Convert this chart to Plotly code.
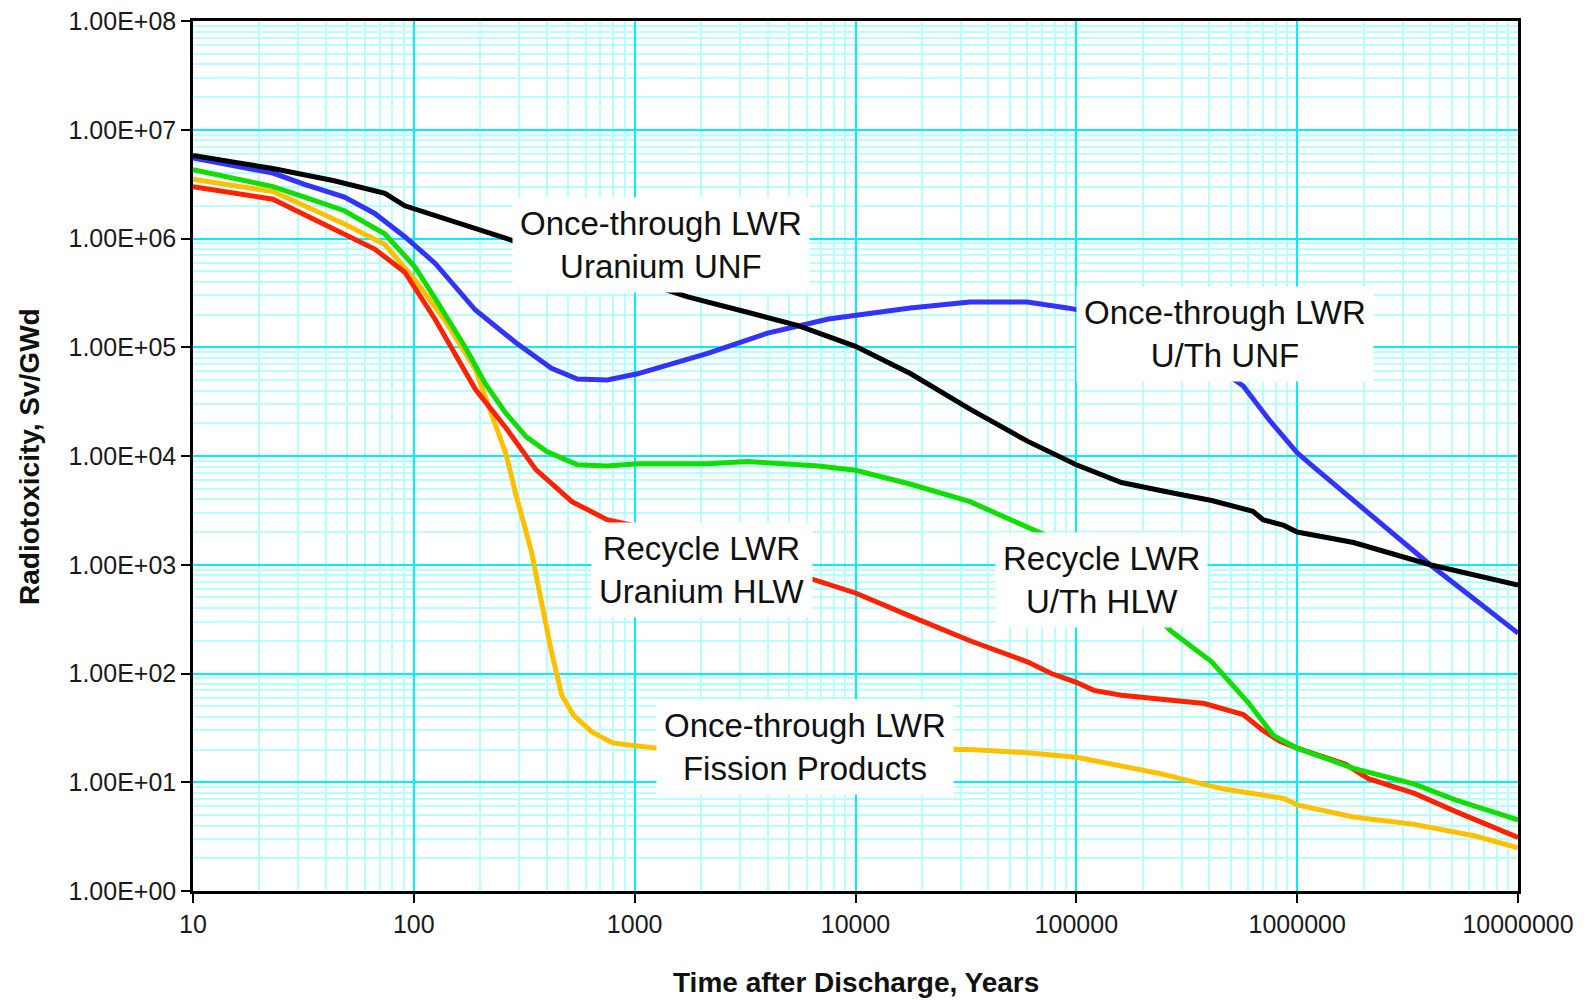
import plotly.graph_objects as go

# ---------------- data ----------------
black_x = [10, 23, 43.6, 74, 91, 263, 1740, 3240, 5500, 10000, 17800, 33000, 60000,
           100000, 130000, 160000, 270000, 410000, 630000, 700000, 870000, 1000000,
           1800000, 4000000, 10000000]
black_y = [5.8e6, 4.4e6, 3.4e6, 2.6e6, 2.0e6, 1.0e6, 2.9e5, 2.1e5, 1.58e5, 1.02e5, 5.7e4,
           2.7e4, 1.37e4, 8.3e3, 6.8e3, 5.7e3, 4.6e3, 3.9e3, 3.1e3, 2.6e3, 2.3e3, 2.0e3,
           1.6e3, 1.0e3, 650]

blue_x = [10, 23, 32, 48.5, 66.5, 91, 125, 190, 290, 420, 550, 750, 1030, 2140, 4000,
          7550, 17700, 33000, 60000, 91000, 150000, 300000, 570000, 740000, 1000000,
          1190000, 4000000, 10000000]
blue_y = [5.5e6, 4.0e6, 3.15e6, 2.4e6, 1.7e6, 1.04e6, 5.9e5, 2.2e5, 1.1e5, 6.4e4, 5.1e4,
          5.0e4, 5.7e4, 8.8e4, 1.35e5, 1.82e5, 2.3e5, 2.6e5, 2.6e5, 2.3e5, 1.9e5, 1.1e5,
          4.4e4, 2.2e4, 1.07e4, 7.9e3, 1.0e3, 235]

green_x = [10, 23, 32, 48.5, 74, 101, 125, 172, 211, 262, 323, 400, 550, 750, 1030, 2140,
           3240, 6800, 10000, 17800, 33000, 60000, 100000, 160000, 270000, 410000, 600000,
           780000, 1000000, 1800000, 3400000, 5200000, 10000000]
green_y = [4.3e6, 3.0e6, 2.4e6, 1.8e6, 1.1e6, 5.5e5, 2.8e5, 9.8e4, 4.6e4, 2.45e4, 1.5e4,
           1.1e4, 8.3e3, 8.1e3, 8.5e3, 8.5e3, 8.9e3, 8.1e3, 7.4e3, 5.5e3, 3.8e3, 2.2e3,
           1.4e3, 700, 243, 128, 54, 27, 20.6, 13.4, 9.6, 6.9, 4.5]

red_x = [10, 23, 32, 48.5, 66.5, 91, 125, 190, 262, 357, 520, 750, 1500, 3000, 6500,
         10000, 17800, 33000, 60000, 77000, 100000, 120000, 160000, 380000, 570000,
         700000, 830000, 1000000, 1660000, 2100000, 3400000, 5200000, 10000000]
red_y = [3.0e6, 2.3e6, 1.65e6, 1.08e6, 8.0e5, 4.9e5, 1.8e5, 4.1e4, 1.8e4, 7.5e3, 3.8e3,
         2.6e3, 1.9e3, 1.2e3, 740, 550, 335, 200, 128, 100, 83, 70, 63, 53, 42, 30, 24,
         20.6, 14.6, 10.8, 7.9, 5.4, 3.1]

yellow_x = [10, 23, 32, 48.5, 74, 101, 139, 190, 262, 290, 340, 420, 468, 530, 640, 795,
            1030, 1270, 5000, 33000, 60000, 100000, 240000, 460000, 870000, 1000000,
            1800000, 3400000, 6400000, 10000000]
yellow_y = [3.5e6, 2.7e6, 2.0e6, 1.36e6, 8.8e5, 4.2e5, 1.74e5, 6.3e4, 1.03e4, 4.4e3, 1.35e3,
            158, 63, 41, 29, 23, 21.5, 20.6, 20.3, 20, 18.7, 17, 12, 8.7, 7.1, 6.2, 4.8,
            4.1, 3.2, 2.5]

x_tick_vals = [10, 100, 1000, 10000, 100000, 1000000, 10000000]
x_tick_text = ["10", "100", "1000", "10000", "100000", "1000000", "10000000"]
y_tick_vals = [1, 10, 100, 1e3, 1e4, 1e5, 1e6, 1e7, 1e8]
y_tick_text = ["1.00E+00", "1.00E+01", "1.00E+02", "1.00E+03", "1.00E+04",
               "1.00E+05", "1.00E+06", "1.00E+07", "1.00E+08"]

labels = ["Once-through LWR<br>Uranium UNF", "Once-through LWR<br>U/Th UNF",
          "Recycle LWR<br>Uranium HLW", "Recycle LWR<br>U/Th HLW",
          "Once-through LWR<br>Fission Products"]
label_pos = [(0.3532, 0.7425), (0.7789, 0.6397), (0.3838, 0.3695), (0.686, 0.3575), (0.462, 0.165)]

series = [
    (black_x, black_y, "#000000", "Once-through LWR Uranium UNF"),
    (blue_x, blue_y, "#3333FF", "Once-through LWR U/Th UNF"),
    (green_x, green_y, "#11DD00", "Recycle LWR U/Th HLW"),
    (red_x, red_y, "#FF2200", "Recycle LWR Uranium HLW"),
    (yellow_x, yellow_y, "#FFC000", "Once-through LWR Fission Products"),
]

fig = go.Figure()
# draw order: yellow, red, green, blue, black (black on top)
for xs, ys, col, name in reversed(series):
    fig.add_trace(go.Scatter(x=xs, y=ys, mode="lines", name=name,
                             line=dict(color=col, width=5), showlegend=False))

for txt, (px, py) in zip(labels, label_pos):
    fig.add_annotation(text=txt, x=px, y=py, xref="paper", yref="paper",
                       showarrow=False, bgcolor="white", borderpad=7,
                       font=dict(family="Liberation Sans, Arial", size=33, color="#111111"),
                       align="center", xanchor="center", yanchor="middle")

# axis titles as annotations
fig.add_annotation(text="<b>Radiotoxicity, Sv/GWd</b>", x=-0.1238, y=0.5, xref="paper", yref="paper",
                   textangle=-90, showarrow=False,
                   font=dict(family="Liberation Sans, Arial", size=28, color="#111111"),
                   xanchor="center", yanchor="middle")
fig.add_annotation(text="<b>Time after Discharge, Years</b>", x=0.5, y=-0.1046, xref="paper", yref="paper",
                   showarrow=False,
                   font=dict(family="Liberation Sans, Arial", size=28, color="#111111"),
                   xanchor="center", yanchor="middle")

axis_common = dict(
    showline=True, linecolor="black", linewidth=2.5, mirror=True,
    ticks="outside", ticklen=9, tickwidth=2, tickcolor="black",
    showgrid=True, gridcolor="#00F0F8", gridwidth=2,
    tickfont=dict(family="Liberation Sans, Arial", size=25, color="#1a1a1a"),
    zeroline=False, automargin=False, ticklabeloverflow="allow",
)

fig.update_xaxes(type="log", range=[1, 7], tickvals=x_tick_vals, ticktext=x_tick_text,
                 minor=dict(dtick="D1", showgrid=True, gridcolor="#B8FFFF", gridwidth=1.5, ticks=""),
                 **axis_common)
fig.update_yaxes(type="log", range=[0, 8], tickvals=y_tick_vals, ticktext=y_tick_text,
                 minor=dict(dtick="D1", showgrid=True, gridcolor="#B8FFFF", gridwidth=1.5, ticks=""),
                 **axis_common)

fig.update_layout(width=1577, height=992, autosize=False,
                  margin=dict(l=185, r=67, t=13, b=109, autoexpand=False),
                  paper_bgcolor="white", plot_bgcolor="white")

fig.write_html("out.html")
